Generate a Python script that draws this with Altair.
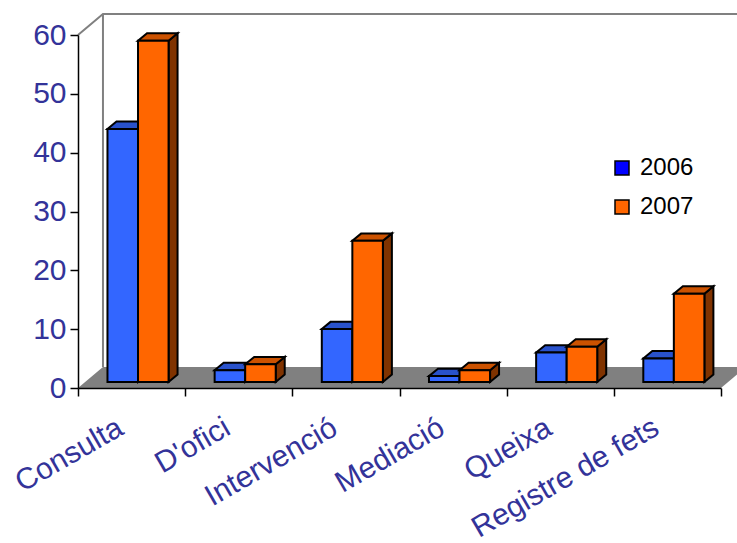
import json

import altair as alt
import pandas as pd

# --- data ---------------------------------------------------------------
categories = ["Consulta", "D'ofici", "Intervenció", "Mediació", "Queixa", "Registre de fets"]
years = ["2006", "2007"]
values_2006 = [43, 2, 9, 1, 5, 4]
values_2007 = [58, 3, 24, 2, 6, 15]
y_ticks = [0, 10, 20, 30, 40, 50, 60]

# --- styling ------------------------------------------------------------
FONT = "Liberation Sans"
LABEL_COLOR = "#333399"
# front / top / side shade of each series' boxes
face_colors = {
    "2006": ("#3366FF", "#2952CC", "#1A3380"),
    "2007": ("#FF6600", "#CC5200", "#803300"),
}
legend_colors = ["#0000FF", "#FF6600"]
EDGE = 2

# 3D geometry in axis units (one category = 1 unit on x, values on y)
Y_MAX = 60
N = len(categories)
FLOOR_DX, FLOOR_DY = 0.233, 3.57   # depth of floor and back wall
BAR_DX0, BAR_DY0 = 0.06, 1.02      # boxes stand slightly behind the front edge
BAR_DX, BAR_DY = 0.084, 1.26       # depth of each box
BAR_W = 0.285

front_rows, top_rows, side_rows = [], [], []
for i, cat in enumerate(categories):
    centre = i + 0.5 + BAR_DX0
    for j, (year, vals) in enumerate(zip(years, [values_2006, values_2007])):
        v = vals[i]
        x0 = centre - BAR_W + j * BAR_W
        x1 = x0 + BAR_W
        y0 = BAR_DY0
        y1 = BAR_DY0 + v
        c_front, c_top, c_side = face_colors[year]
        key = f"{i}-{year}"
        front_rows.append(dict(category=cat, year=year, value=v,
                               x=x0, x2=x1, y=y0, y2=y1, fill=c_front))
        top_rows += [
            dict(face=key, y=y1, x=x0, x2=x1, fill=c_top),
            dict(face=key, y=y1 + BAR_DY, x=x0 + BAR_DX, x2=x1 + BAR_DX, fill=c_top),
        ]
        side_rows += [
            dict(face=key, x=x1, y=y0, y2=y1, fill=c_side),
            dict(face=key, x=x1 + BAR_DX, y=y0 + BAR_DY, y2=y1 + BAR_DY, fill=c_side),
        ]

front_df = pd.DataFrame(front_rows)
top_df = pd.DataFrame(top_rows)
side_df = pd.DataFrame(side_rows)

floor_df = pd.DataFrame([
    dict(y=0, x=0, x2=N),
    dict(y=FLOOR_DY, x=FLOOR_DX, x2=N + FLOOR_DX),
])

wall_df = pd.DataFrame([
    dict(seg="top", o=0, x=0, y=Y_MAX),
    dict(seg="top", o=1, x=FLOOR_DX, y=Y_MAX + FLOOR_DY),
    dict(seg="top", o=2, x=N + FLOOR_DX, y=Y_MAX + FLOOR_DY),
    dict(seg="back", o=0, x=FLOOR_DX, y=FLOOR_DY),
    dict(seg="back", o=1, x=FLOOR_DX, y=Y_MAX + FLOOR_DY),
])

legend_df = pd.DataFrame({"year": years})

# --- scales & axes ------------------------------------------------------
xscale = alt.Scale(domain=[0, N], nice=False, zero=False)
yscale = alt.Scale(domain=[0, Y_MAX], nice=False)

tick_axis = alt.Axis(
    orient="bottom", values=list(range(N + 1)), labels=False, title=None,
    grid=False, tickSize=8, tickColor="black", tickWidth=1.5,
    domainColor="black", domainWidth=1.5, zindex=1,
)
label_axis = alt.Axis(
    orient="bottom", values=[i + 0.5 for i in range(N)], title=None,
    labelExpr=f"{json.dumps(categories, ensure_ascii=False)}[round(datum.value - 0.5)]",
    ticks=False, domain=False, grid=False, labelAngle=330,
    labelAlign="right", labelBaseline="top", labelFont=FONT,
    labelFontSize=30, labelColor=LABEL_COLOR, labelPadding=24,
    labelOffset=-19, labelOverlap=False, labelFlush=False, labelLimit=0,
)
y_axis = alt.Axis(
    orient="left", values=y_ticks, title=None, grid=False,
    tickSize=8, tickColor="black", tickWidth=1.5,
    domainColor="black", domainWidth=1.5, labelPadding=4,
    labelFont=FONT, labelFontSize=30, labelColor=LABEL_COLOR, zindex=1,
)

# --- layers -------------------------------------------------------------
floor = alt.Chart(floor_df).mark_area(orient="horizontal", color="#808080").encode(
    y=alt.Y("y:Q", scale=yscale, axis=y_axis),
    x=alt.X("x:Q", scale=xscale, axis=tick_axis, stack=None),
    x2="x2:Q",
)

walls = alt.Chart(wall_df).mark_line(color="#808080", strokeWidth=2).encode(
    x=alt.X("x:Q", scale=xscale, axis=None),
    y=alt.Y("y:Q", scale=yscale, axis=None),
    detail="seg:N",
    order="o:Q",
)

sides = alt.Chart(side_df).mark_area(
    orient="vertical", stroke="black", strokeWidth=EDGE, strokeJoin="miter"
).encode(
    x=alt.X("x:Q", scale=xscale, axis=None),
    y=alt.Y("y:Q", scale=yscale, axis=None, stack=None),
    y2="y2:Q",
    detail="face:N",
    fill=alt.Fill("fill:N", scale=None),
)

tops = alt.Chart(top_df).mark_area(
    orient="horizontal", stroke="black", strokeWidth=EDGE, strokeJoin="miter"
).encode(
    y=alt.Y("y:Q", scale=yscale, axis=None),
    x=alt.X("x:Q", scale=xscale, axis=None, stack=None),
    x2="x2:Q",
    detail="face:N",
    fill=alt.Fill("fill:N", scale=None),
)

fronts = alt.Chart(front_df).mark_rect(
    stroke="black", strokeWidth=EDGE, strokeJoin="miter"
).encode(
    x=alt.X("x:Q", scale=xscale, axis=label_axis),
    x2="x2:Q",
    y=alt.Y("y:Q", scale=yscale, axis=None),
    y2="y2:Q",
    fill=alt.Fill("fill:N", scale=None),
    tooltip=["category:N", "year:N", "value:Q"],
)

legend = alt.Chart(legend_df).mark_square(
    size=0, opacity=1, stroke="black", strokeWidth=1.5
).encode(
    color=alt.Color(
        "year:N",
        scale=alt.Scale(domain=years, range=legend_colors),
        legend=alt.Legend(
            title=None, orient="none", legendX=532, legendY=121,
            symbolType="square", symbolSize=196, symbolStrokeColor="black",
            symbolStrokeWidth=1.5, symbolOpacity=1, labelFont=FONT,
            labelFontSize=24, labelColor="black", labelOffset=6,
            rowPadding=15, padding=0,
        ),
    ),
)

chart = (
    alt.layer(floor, walls, sides, tops, fronts, legend)
    .resolve_axis(x="independent", y="independent")
    .properties(
        width=643, height=353,
        autosize=alt.AutoSizeParams(type="none"),
        padding={"left": 78, "top": 35, "right": 16, "bottom": 155},
        background="white",
    )
    .configure_view(stroke=None)
)

chart.save("out.html", embed_options={"renderer": "svg", "actions": False})
